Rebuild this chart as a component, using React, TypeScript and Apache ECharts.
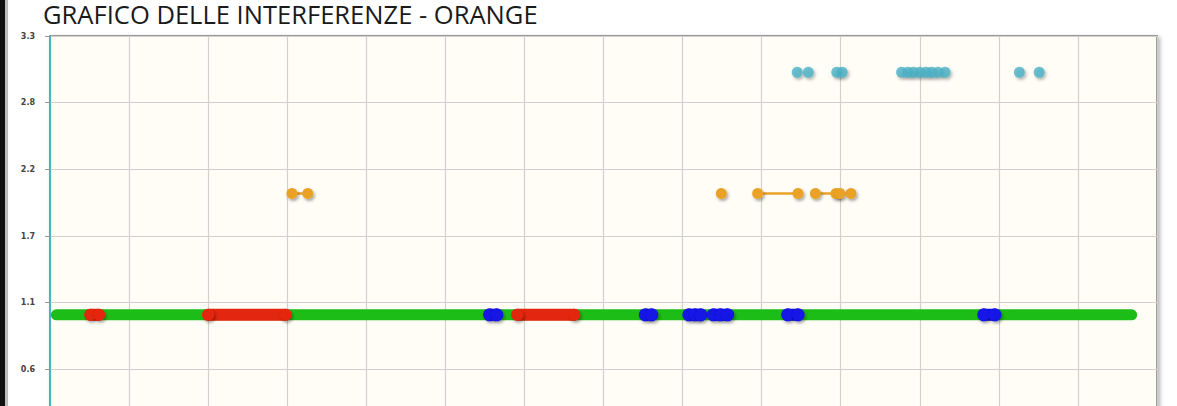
import React, { useEffect, useRef } from "react";
import * as echarts from "echarts";

const TITLE = "GRAFICO DELLE INTERFERENZE - ORANGE";

// y levels of each band
const GREEN_LEVEL = 1;
const ORANGE_LEVEL = 2;
const TEAL_LEVEL = 3;

// x positions (axis units, 0..14)
const GREEN_RANGE = [0.08, 13.68];
const RED_SEGMENTS = [
  [0.51, 0.62],
  [2.0, 2.98],
  [5.91, 6.63],
];
const BLUE_SEGMENTS = [
  [5.56, 5.65],
  [7.53, 7.61],
  [8.08, 8.16, 8.23],
  [8.39, 8.48, 8.57],
  [9.33, 9.46],
  [11.81, 11.95],
];
const ORANGE_SEGMENTS = [
  [3.06, 3.26],
  [8.49],
  [8.95, 9.46],
  [9.68, 9.94, 9.99, 10.13],
];
const TEAL_POINTS = [
  9.45, 9.59, 9.95, 10.02, 10.77, 10.85, 10.92, 11.0, 11.08, 11.15, 11.23, 11.32,
  12.26, 12.51,
];

const Y_MIN = 0;
const Y_MAX = 3.3;
const Y_STEP = 0.55;
const X_MIN = 0;
const X_MAX = 14;
const X_STEP = 1;

const SHADOW = {
  shadowColor: "rgba(0,0,0,0.35)",
  shadowBlur: 3,
  shadowOffsetX: 1.5,
  shadowOffsetY: 2,
};

function segSeries(segs: number[][], level: number, color: string, width: number, size: number) {
  return segs.map((seg) => ({
    type: "line",
    silent: true,
    data: seg.map((x) => [x, level]),
    symbol: "circle",
    symbolSize: size,
    showSymbol: true,
    lineStyle: { color, width, cap: "round" },
    itemStyle: { color, borderWidth: 0, ...SHADOW },
    z: 3,
  }));
}

export default function App() {
  const ref = useRef<HTMLDivElement>(null);

  useEffect(() => {
    if (!ref.current) return;
    const chart = echarts.init(ref.current, undefined, { renderer: "svg" });

    const canvas = document.createElement("canvas");
    const ctx = canvas.getContext("2d");
    let scaleX = 1;
    if (ctx) {
      ctx.font = '25px "Open Sans"';
      const w = ctx.measureText(TITLE).width;
      if (w > 0) scaleX = 495 / w;
    }

    const series: any[] = [
      {
        type: "line",
        silent: true,
        data: GREEN_RANGE.map((x) => [x, GREEN_LEVEL]),
        symbol: "none",
        lineStyle: { color: "#1dbd18", width: 11, cap: "round" },
        z: 2,
      },
      ...segSeries(RED_SEGMENTS, GREEN_LEVEL, "#e3260f", 12, 12),
      ...segSeries(BLUE_SEGMENTS, GREEN_LEVEL, "#1212e6", 12, 13),
      ...segSeries(ORANGE_SEGMENTS, ORANGE_LEVEL, "#EAA228", 2.5, 11),
      {
        type: "scatter",
        silent: true,
        data: TEAL_POINTS.map((x) => [x, TEAL_LEVEL]),
        symbol: "circle",
        symbolSize: 11,
        itemStyle: { color: "#4bb2c5", ...SHADOW },
        z: 3,
      },
    ];

    chart.setOption({
      animation: false,
      backgroundColor: "#ffffff",
      grid: {
        left: 50,
        top: 36,
        right: 20,
        bottom: 34,
        show: true,
        backgroundColor: "#fffdf6",
        borderColor: "#999999",
        borderWidth: 2,
        shadowColor: "rgba(0,0,0,0.3)",
        shadowBlur: 4,
        shadowOffsetX: 2,
        shadowOffsetY: 2,
      },
      xAxis: {
        type: "value",
        min: X_MIN,
        max: X_MAX,
        interval: X_STEP,
        axisLine: { show: false },
        axisTick: { show: false },
        axisLabel: { show: false },
        splitLine: { show: true, lineStyle: { color: "#d0d0d0", width: 1.2 } },
      },
      yAxis: {
        type: "value",
        min: Y_MIN,
        max: Y_MAX,
        interval: Y_STEP,
        axisLine: { show: true, lineStyle: { color: "#4bb2c5", width: 2 } },
        axisTick: { show: true, length: 5, lineStyle: { color: "#999" } },
        axisLabel: {
          fontSize: 8,
          fontWeight: "bold",
          color: "#444",
          margin: 15,
          fontFamily: "DejaVu Sans",
          formatter: (v: number) =>
            v === 0 ? "" : (Math.round(v * 10 + 1e-9) / 10).toFixed(1),
        },
        splitLine: { show: true, lineStyle: { color: "#d0d0d0", width: 1.2 } },
      },
      series,
      graphic: [
        {
          type: "rect",
          shape: { x: 0, y: 0, width: 5, height: 470 },
          style: { fill: "#111111" },
          z: 100,
        },
        {
          type: "rect",
          shape: { x: 5, y: 0, width: 3, height: 470 },
          style: { fill: "#bdbdbd" },
          z: 100,
        },
        {
          type: "text",
          x: 43,
          y: 14,
          scaleX,
          style: {
            text: TITLE,
            fontSize: 25,
            lineHeight: 22,
            fontFamily: "Open Sans",
            fill: "#1a1a1a",
            align: "left",
            verticalAlign: "middle",
          },
          z: 100,
        },
      ],
    });

    return () => chart.dispose();
  }, []);

  return (
    <div
      style={{
        position: "fixed",
        left: 0,
        top: 0,
        width: 1177,
        height: 406,
        overflow: "hidden",
        background: "#ffffff",
      }}
    >
      <div ref={ref} style={{ width: 1177, height: 470 }} />
    </div>
  );
}
